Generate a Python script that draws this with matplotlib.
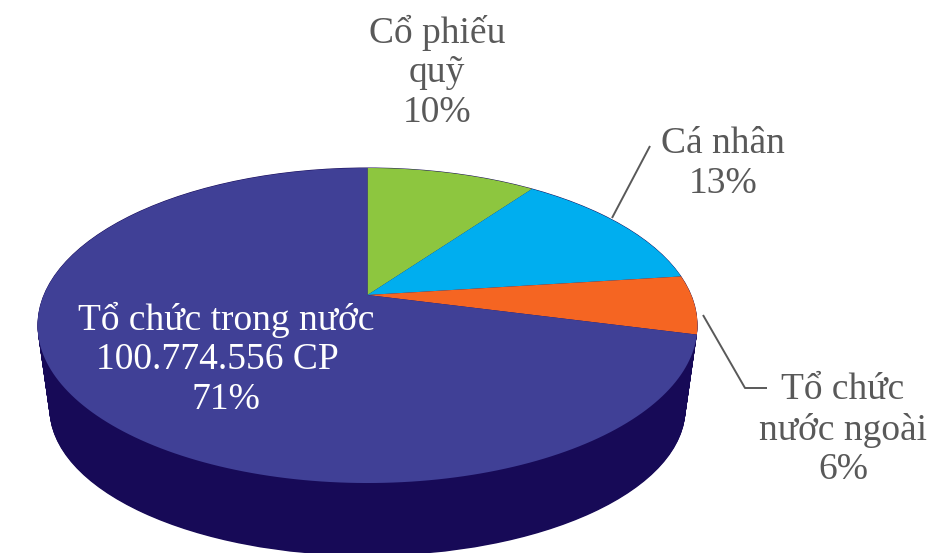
import matplotlib
matplotlib.use('Agg')
import matplotlib.pyplot as plt
from matplotlib.patches import Ellipse, Polygon
import numpy as np

labels = ['Cổ phiếu\nquỹ', 'Cá nhân', 'Tổ chức\nnước ngoài', 'Tổ chức trong nước\n100.774.556 CP  ']
shares = [10, 13, 6, 71]
colors = ['#8DC63F', '#00AEEF', '#F56522', '#404096']

plt.rcParams['font.family'] = ['Liberation Serif', 'DejaVu Serif']

# pie centre on the page and the tilt of the disc
cx, cy = 367.5, 295.0
k = 0.1937
a, b = 323.7, 151.6


def project(frac):
    # fraction of the pie, clockwise from 12 o'clock -> page position
    t = 2*np.pi*np.asarray(frac)
    u, v = np.sin(t), np.cos(t)
    w = 1 + k*v
    return cx + a*u/w, cy - b*v/w


fig = plt.figure(figsize=(9.49, 5.53), dpi=100)
ax = fig.add_axes([0, 0, 1, 1])
ax.set_xlim(0, 949)
ax.set_ylim(553, 0)
ax.axis('off')

# side wall, swept from the top rim down to the bottom rim
for s in np.linspace(0, 1, 100):
    ax.add_patch(Ellipse((367.5, 325 + s*84), 2*(330 - s*12), 2*(157.5 - s*10.5),
                         fc='#170A57', ec='none'))

# top face
edges = np.cumsum([0] + shares)/sum(shares)
for i in range(len(shares)):
    f = np.linspace(edges[i], edges[i+1], 200)
    x, y = project(f)
    pts = np.column_stack([np.r_[cx, x], np.r_[cy, y]])
    ax.add_patch(Polygon(pts, closed=True, fc=colors[i], ec='none'))

# leader lines
gray = '#595959'
ax.plot([612, 650], [218, 146], color=gray, lw=1.4, solid_capstyle='butt')
ax.plot([703, 745, 767], [315, 388, 388], color=gray, lw=1.4, solid_capstyle='butt')

# labels
fs = 27
ls = 1.19
ax.text(437, 72, f'{labels[0]}\n{shares[0]}%', color=gray, fontsize=fs, ha='center', va='center', linespacing=ls)
ax.text(723, 164, f'{labels[1]}\n{shares[1]}%', color=gray, fontsize=fs, ha='center', va='center', linespacing=ls)
ax.text(843, 430, f'{labels[2]}\n{shares[2]}%', color=gray, fontsize=fs, ha='center', va='center', linespacing=ls)
ax.text(226, 359, f'{labels[3]}\n{shares[3]}%', color='white', fontsize=fs, ha='center', va='center', linespacing=ls)

fig.savefig('out.png', dpi=100, facecolor='white')
